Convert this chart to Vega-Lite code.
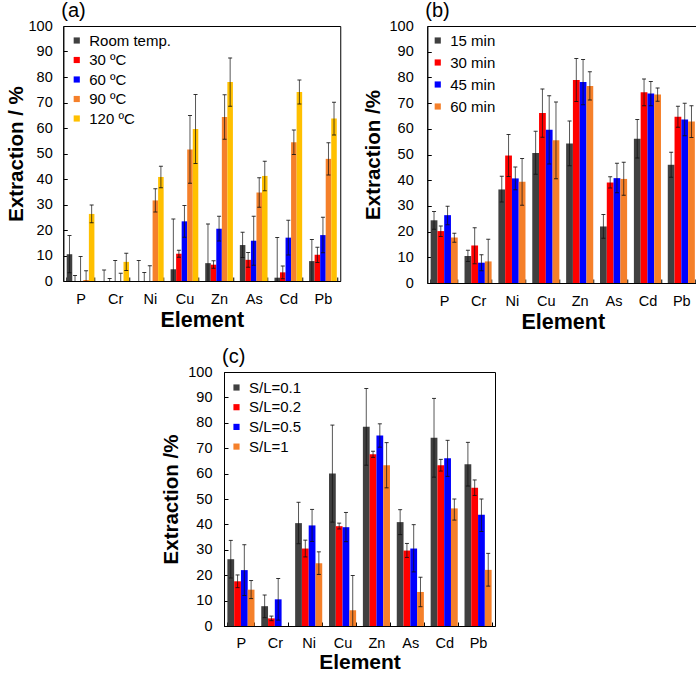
{
"$schema":"https://vega.github.io/schema/vega-lite/v6.json",
"padding":{"left":5,"top":0,"right":0,"bottom":0},
"config":{
 "font":"Liberation Sans",
 "view":{"stroke":"#000","strokeWidth":1},
 "axis":{"grid":false,"domainColor":"#000","tickColor":"#000","labelColor":"#000","labelFontSize":14.5,"titleColor":"#000","titleFontWeight":"bold","tickSize":-4,"labelFont":"Liberation Sans","titleFont":"Liberation Sans","labelOverlap":false},
 "axisX":{"labelAngle":0,"tickBand":"extent","labelPadding":15,"titleFontSize":21.5,"titlePadding":4},
 "axisY":{"titleFontSize":20.5,"labelPadding":15,"titlePadding":2},
 "title":{"anchor":"start","frame":"group","fontSize":20,"fontWeight":"normal","font":"Liberation Sans","color":"#000","offset":-3,"dx":-2},
 "legend":{"labelFontSize":15,"labelColor":"#000","labelFont":"Liberation Sans","symbolType":"square","symbolSize":38,"rowPadding":4.5,"labelOffset":5,"symbolStrokeWidth":0},
 "tick":{"color":"#111","thickness":1,"size":4,"opacity":0.85},
 "rule":{"color":"#111","strokeWidth":1,"opacity":0.7}
},
"spacing":12,
"center":true,
"resolve":{"scale":{"color":"independent","xOffset":"independent","x":"independent","y":"independent"},"legend":{"color":"independent"}},
"vconcat":[
{"spacing":21,
 "resolve":{"scale":{"color":"independent","xOffset":"independent","x":"independent","y":"independent"},"legend":{"color":"independent"}},
 "hconcat":[
{
 "width":277,"height":255,
 "title":{"text":"(a)"},
 "data":{"values":[
  {"e":"P","g":"Room temp.","v":10.5,"lo":3.2,"hi":17.8},
  {"e":"P","g":"30 ºC","v":0,"lo":-2.2,"hi":2.2},
  {"e":"P","g":"60 ºC","v":0,"lo":-9.6,"hi":9.6},
  {"e":"P","g":"90 ºC","v":0.4,"lo":-3.2,"hi":4},
  {"e":"P","g":"120 ºC","v":26.3,"lo":22.8,"hi":29.8},
  {"e":"Cr","g":"Room temp.","v":0,"lo":-4.3,"hi":4.3},
  {"e":"Cr","g":"30 ºC","v":0,"lo":-1,"hi":1},
  {"e":"Cr","g":"60 ºC","v":0,"lo":-8,"hi":8},
  {"e":"Cr","g":"90 ºC","v":0,"lo":-3,"hi":3},
  {"e":"Cr","g":"120 ºC","v":7.5,"lo":4.1,"hi":10.9},
  {"e":"Ni","g":"Room temp.","v":0,"lo":-8,"hi":8},
  {"e":"Ni","g":"30 ºC","v":0,"lo":-3.3,"hi":3.3},
  {"e":"Ni","g":"60 ºC","v":0,"lo":-6,"hi":6},
  {"e":"Ni","g":"90 ºC","v":31.6,"lo":27.1,"hi":36.2},
  {"e":"Ni","g":"120 ºC","v":40.8,"lo":36.6,"hi":45},
  {"e":"Cu","g":"Room temp.","v":4.6,"lo":-15,"hi":24.3},
  {"e":"Cu","g":"30 ºC","v":10.7,"lo":9.3,"hi":12.1},
  {"e":"Cu","g":"60 ºC","v":23.4,"lo":17.2,"hi":29.6},
  {"e":"Cu","g":"90 ºC","v":51.6,"lo":38.3,"hi":64.9},
  {"e":"Cu","g":"120 ºC","v":59.6,"lo":46.1,"hi":73.1},
  {"e":"Zn","g":"Room temp.","v":7,"lo":-8.4,"hi":22.4},
  {"e":"Zn","g":"30 ºC","v":6.4,"lo":5,"hi":7.9},
  {"e":"Zn","g":"60 ºC","v":20.5,"lo":15.7,"hi":25.4},
  {"e":"Zn","g":"90 ºC","v":64.3,"lo":55.6,"hi":73},
  {"e":"Zn","g":"120 ºC","v":78,"lo":68.5,"hi":87.5},
  {"e":"As","g":"Room temp.","v":14.1,"lo":9.2,"hi":19.1},
  {"e":"As","g":"30 ºC","v":8.3,"lo":5.4,"hi":11.2},
  {"e":"As","g":"60 ºC","v":15.8,"lo":6.2,"hi":25.4},
  {"e":"As","g":"90 ºC","v":34.7,"lo":28.9,"hi":40.5},
  {"e":"As","g":"120 ºC","v":41.2,"lo":35.4,"hi":47},
  {"e":"Cd","g":"Room temp.","v":1.3,"lo":-14.5,"hi":17.1},
  {"e":"Cd","g":"30 ºC","v":3.4,"lo":0.9,"hi":5.9},
  {"e":"Cd","g":"60 ºC","v":17,"lo":10.2,"hi":23.8},
  {"e":"Cd","g":"90 ºC","v":54.4,"lo":49.6,"hi":59.2},
  {"e":"Cd","g":"120 ºC","v":74.1,"lo":69.4,"hi":78.8},
  {"e":"Pb","g":"Room temp.","v":7.8,"lo":-0.7,"hi":16.3},
  {"e":"Pb","g":"30 ºC","v":10.3,"lo":7.3,"hi":13.2},
  {"e":"Pb","g":"60 ºC","v":18,"lo":11.1,"hi":25},
  {"e":"Pb","g":"90 ºC","v":47.9,"lo":41.6,"hi":54.2},
  {"e":"Pb","g":"120 ºC","v":63.7,"lo":57.3,"hi":70.1}
 ]},
 "encoding":{
  "x":{"field":"e","type":"nominal","sort":["P","Cr","Ni","Cu","Zn","As","Cd","Pb"],"scale":{"paddingInner":0.2,"paddingOuter":0.1},"title":"Element"},
  "xOffset":{"field":"g","type":"nominal","sort":["Room temp.","30 ºC","60 ºC","90 ºC","120 ºC"]}
 },
 "layer":[
  {"mark":"bar","encoding":{
   "y":{"field":"v","type":"quantitative","scale":{"domain":[0,100]},"title":"Extraction / %","axis":{"values":[0,10,20,30,40,50,60,70,80,90,100]}},
   "color":{"field":"g","type":"nominal","scale":{"domain":["Room temp.","30 ºC","60 ºC","90 ºC","120 ºC"],"range":["#404040","#FF0000","#0000FF","#F5802A","#FFC000"]},"legend":{"title":null,"orient":"none","legendX":6,"legendY":7,"rowPadding":3.5}}}},
  {"mark":{"type":"rule","clip":true},"encoding":{"y":{"field":"lo","type":"quantitative","title":"Extraction / %","axis":{"values":[0,10,20,30,40,50,60,70,80,90,100]}},"y2":{"field":"hi"}}},
  {"mark":{"type":"tick","clip":true},"encoding":{"y":{"field":"hi","type":"quantitative","title":"Extraction / %","axis":{"values":[0,10,20,30,40,50,60,70,80,90,100]}}}},
  {"mark":{"type":"tick","clip":true},"encoding":{"y":{"field":"lo","type":"quantitative","title":"Extraction / %","axis":{"values":[0,10,20,30,40,50,60,70,80,90,100]}}}}
 ]
},
{
 "width":271,"height":257,
 "title":{"text":"(b)"},
 "data":{"values":[
  {"e":"P","g":"15 min","v":24.4,"lo":20.9,"hi":27.8},
  {"e":"P","g":"30 min","v":20.2,"lo":18.1,"hi":22.2},
  {"e":"P","g":"45 min","v":26.4,"lo":22.7,"hi":29.9},
  {"e":"P","g":"60 min","v":17.7,"lo":15.9,"hi":19.4},
  {"e":"Cr","g":"15 min","v":10.5,"lo":8.4,"hi":12.7},
  {"e":"Cr","g":"30 min","v":14.6,"lo":7.5,"hi":21.5},
  {"e":"Cr","g":"45 min","v":7.9,"lo":4.8,"hi":11},
  {"e":"Cr","g":"60 min","v":8.4,"lo":-0.2,"hi":17},
  {"e":"Ni","g":"15 min","v":36.4,"lo":31.5,"hi":41.5},
  {"e":"Ni","g":"30 min","v":49.6,"lo":41.4,"hi":57.8},
  {"e":"Ni","g":"45 min","v":40.7,"lo":36.3,"hi":45.1},
  {"e":"Ni","g":"60 min","v":39.4,"lo":30.3,"hi":48.4},
  {"e":"Cu","g":"15 min","v":50.6,"lo":42.3,"hi":59},
  {"e":"Cu","g":"30 min","v":66.1,"lo":56.7,"hi":75.5},
  {"e":"Cu","g":"45 min","v":59.6,"lo":46.3,"hi":72.9},
  {"e":"Cu","g":"60 min","v":55.5,"lo":40.6,"hi":70.4},
  {"e":"Zn","g":"15 min","v":54.3,"lo":45.6,"hi":63},
  {"e":"Zn","g":"30 min","v":79,"lo":70.6,"hi":87.4},
  {"e":"Zn","g":"45 min","v":78.2,"lo":69.4,"hi":87},
  {"e":"Zn","g":"60 min","v":76.7,"lo":71.2,"hi":82.2},
  {"e":"As","g":"15 min","v":22,"lo":17.4,"hi":26.7},
  {"e":"As","g":"30 min","v":39.1,"lo":37,"hi":41.3},
  {"e":"As","g":"45 min","v":40.8,"lo":35.1,"hi":46.6},
  {"e":"As","g":"60 min","v":40.5,"lo":34.1,"hi":47},
  {"e":"Cd","g":"15 min","v":56.1,"lo":48.6,"hi":63.6},
  {"e":"Cd","g":"30 min","v":74.2,"lo":69,"hi":79.4},
  {"e":"Cd","g":"45 min","v":73.7,"lo":69,"hi":78.4},
  {"e":"Cd","g":"60 min","v":73.3,"lo":70.7,"hi":75.9},
  {"e":"Pb","g":"15 min","v":46,"lo":41.1,"hi":50.9},
  {"e":"Pb","g":"30 min","v":64.7,"lo":60.6,"hi":68.8},
  {"e":"Pb","g":"45 min","v":63.6,"lo":57.3,"hi":69.9},
  {"e":"Pb","g":"60 min","v":62.8,"lo":56.6,"hi":69}
 ]},
 "encoding":{
  "x":{"field":"e","type":"nominal","sort":["P","Cr","Ni","Cu","Zn","As","Cd","Pb"],"scale":{"paddingInner":0.2,"paddingOuter":0.1},"title":"Element"},
  "xOffset":{"field":"g","type":"nominal","sort":["15 min","30 min","45 min","60 min"]}
 },
 "layer":[
  {"mark":"bar","encoding":{
   "y":{"field":"v","type":"quantitative","scale":{"domain":[0,100]},"title":"Extraction /%","axis":{"values":[0,10,20,30,40,50,60,70,80,90,100],"labelPadding":18,"titlePadding":6}},
   "color":{"field":"g","type":"nominal","scale":{"domain":["15 min","30 min","45 min","60 min"],"range":["#404040","#FF0000","#0000FF","#F5802A"]},"legend":{"title":null,"orient":"none","legendX":3,"legendY":7,"rowPadding":6}}}},
  {"mark":{"type":"rule","clip":true},"encoding":{"y":{"field":"lo","type":"quantitative","title":"Extraction /%","axis":{"values":[0,10,20,30,40,50,60,70,80,90,100],"labelPadding":18,"titlePadding":6}},"y2":{"field":"hi"}}},
  {"mark":{"type":"tick","clip":true},"encoding":{"y":{"field":"hi","type":"quantitative","title":"Extraction /%","axis":{"values":[0,10,20,30,40,50,60,70,80,90,100],"labelPadding":18,"titlePadding":6}}}},
  {"mark":{"type":"tick","clip":true},"encoding":{"y":{"field":"lo","type":"quantitative","title":"Extraction /%","axis":{"values":[0,10,20,30,40,50,60,70,80,90,100],"labelPadding":18,"titlePadding":6}}}}
 ]
}
]},
{
 "width":271,"height":254,
 "title":{"text":"(c)"},
 "data":{"values":[
  {"e":"P","g":"S/L=0.1","v":26.3,"lo":18.9,"hi":33.7},
  {"e":"P","g":"S/L=0.2","v":17.6,"lo":15.1,"hi":20.1},
  {"e":"P","g":"S/L=0.5","v":22,"lo":12,"hi":32},
  {"e":"P","g":"S/L=1","v":14.3,"lo":10.8,"hi":17.9},
  {"e":"Cr","g":"S/L=0.1","v":7.8,"lo":3.3,"hi":12.2},
  {"e":"Cr","g":"S/L=0.2","v":3,"lo":2.1,"hi":3.9},
  {"e":"Cr","g":"S/L=0.5","v":10.5,"lo":2.3,"hi":18.7},
  {"e":"Cr","g":"S/L=1","v":0,"lo":null,"hi":null},
  {"e":"Ni","g":"S/L=0.1","v":40.5,"lo":32.4,"hi":48.7},
  {"e":"Ni","g":"S/L=0.2","v":30.5,"lo":27.2,"hi":33.8},
  {"e":"Ni","g":"S/L=0.5","v":39.6,"lo":33.3,"hi":45.9},
  {"e":"Ni","g":"S/L=1","v":24.7,"lo":20.3,"hi":29.2},
  {"e":"Cu","g":"S/L=0.1","v":60,"lo":40.9,"hi":79.1},
  {"e":"Cu","g":"S/L=0.2","v":39.3,"lo":38.2,"hi":40.5},
  {"e":"Cu","g":"S/L=0.5","v":38.9,"lo":33.2,"hi":44.7},
  {"e":"Cu","g":"S/L=1","v":6.2,"lo":-7.5,"hi":19.9},
  {"e":"Zn","g":"S/L=0.1","v":78.4,"lo":63.3,"hi":93.5},
  {"e":"Zn","g":"S/L=0.2","v":67.6,"lo":66.4,"hi":68.8},
  {"e":"Zn","g":"S/L=0.5","v":75,"lo":70.4,"hi":79.6},
  {"e":"Zn","g":"S/L=1","v":63.3,"lo":54.4,"hi":72.2},
  {"e":"As","g":"S/L=0.1","v":40.9,"lo":36,"hi":45.8},
  {"e":"As","g":"S/L=0.2","v":29.7,"lo":27,"hi":32.5},
  {"e":"As","g":"S/L=0.5","v":30.5,"lo":21.3,"hi":39.9},
  {"e":"As","g":"S/L=1","v":13.4,"lo":7.6,"hi":19.2},
  {"e":"Cd","g":"S/L=0.1","v":74.1,"lo":58.6,"hi":89.6},
  {"e":"Cd","g":"S/L=0.2","v":63.3,"lo":61,"hi":65.6},
  {"e":"Cd","g":"S/L=0.5","v":66,"lo":58.9,"hi":73.1},
  {"e":"Cd","g":"S/L=1","v":46.3,"lo":41.7,"hi":50},
  {"e":"Pb","g":"S/L=0.1","v":63.7,"lo":55.1,"hi":72.3},
  {"e":"Pb","g":"S/L=0.2","v":54.4,"lo":51.4,"hi":57.5},
  {"e":"Pb","g":"S/L=0.5","v":43.8,"lo":37.2,"hi":50},
  {"e":"Pb","g":"S/L=1","v":22.1,"lo":15.7,"hi":28.6}
 ]},
 "encoding":{
  "x":{"field":"e","type":"nominal","sort":["P","Cr","Ni","Cu","Zn","As","Cd","Pb"],"scale":{"paddingInner":0.2,"paddingOuter":0.1},"title":"Element","axis":{"titlePadding":2,"labelPadding":14,"titleFontSize":21}},
  "xOffset":{"field":"g","type":"nominal","sort":["S/L=0.1","S/L=0.2","S/L=0.5","S/L=1"]}
 },
 "resolve":{"scale":{"y":"independent"}},
 "layer":[
  {"mark":"bar","encoding":{
   "y":{"field":"v","type":"quantitative","scale":{"domain":[0,100]},"title":"Extraction /%","axis":{"values":[0,10,20,30,40,50,60,70,80,90,100],"labelPadding":16,"titlePadding":6}},
   "color":{"field":"g","type":"nominal","scale":{"domain":["S/L=0.1","S/L=0.2","S/L=0.5","S/L=1"],"range":["#404040","#FF0000","#0000FF","#F5802A"]},"legend":{"title":null,"orient":"none","legendX":5,"legendY":8,"rowPadding":3.7}}}},
  {"mark":{"type":"rule","clip":true},"encoding":{"y":{"field":"lo","type":"quantitative","scale":{"domain":[0,100]},"axis":{"orient":"right","labels":false,"domain":false,"tickSize":42,"tickColor":"transparent","title":null,"values":[0,100]}},"y2":{"field":"hi"}}},
  {"mark":{"type":"tick","clip":true},"encoding":{"y":{"field":"hi","type":"quantitative","scale":{"domain":[0,100]},"axis":null}}},
  {"mark":{"type":"tick","clip":true},"encoding":{"y":{"field":"lo","type":"quantitative","scale":{"domain":[0,100]},"axis":null}}}
 ]
}
]
}
